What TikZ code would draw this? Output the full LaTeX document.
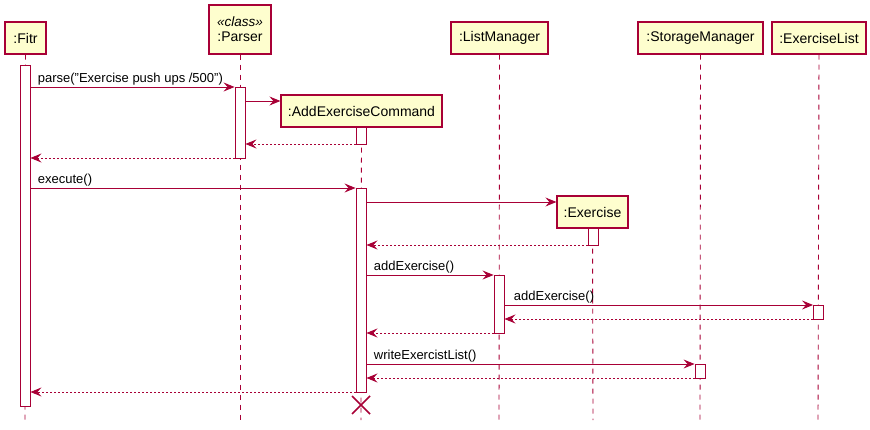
\documentclass[tikz,border=0pt]{standalone}
\usepackage{fontspec}
\setmainfont{Liberation Sans}
\usetikzlibrary{arrows.meta,calc}
\definecolor{pred}{HTML}{A80036}
\definecolor{pfill}{HTML}{FEFECE}
\begin{document}
\begin{tikzpicture}[x=1pt,y=-1pt,
  part/.style={draw=pred,fill=pfill,line width=1.2pt,inner sep=0pt,font=\fontsize{14}{16}\selectfont},
  life/.style={draw=pred,line width=0.9pt,dash pattern=on 5pt off 5pt},
  actbar/.style={draw=pred,fill=white,line width=0.9pt},
  msg/.style={draw=pred,line width=0.9pt,-{Stealth[length=11pt,width=9pt,inset=4pt]}},
  ret/.style={msg,dash pattern=on 2pt off 2pt},
  lbl/.style={font=\fontsize{13}{15}\selectfont,anchor=south west,inner sep=1pt}]
\useasboundingbox (0,0) rectangle (870,430);
% participants
\node[part,minimum width=41pt,minimum height=32pt] (fitr) at (25.5,38) {:Fitr};
\node[part,minimum width=62pt,minimum height=49pt,align=center] (parser) at (240,29.5) {\fontsize{13.5}{15}\selectfont\itshape «class»\\[-1pt]:Parser};
\node[part,minimum width=97pt,minimum height=32pt] (lm) at (499.5,38) {:ListManager};
\node[part,minimum width=125pt,minimum height=32pt] (sm) at (700.5,38) {:StorageManager};
\node[part,minimum width=94pt,minimum height=32pt] (el) at (819,38) {:ExerciseList};
\node[part,minimum width=161pt,minimum height=32pt] (aec) at (361.5,111) {:AddExerciseCommand};
\node[part,minimum width=71pt,minimum height=32pt] (ex) at (592.5,212) {:Exercise};
% lifelines
\coordinate (fitrE) at (25,420);
\coordinate (parserE) at (240,420);
\coordinate (lmE) at (499,420);
\coordinate (smE) at (700,420);
\coordinate (elE) at (818,420);
\coordinate (aecE) at (361,420);
\coordinate (exE) at (593,420);
\draw[life] (fitr.south) -- (fitrE);
\draw[life] (parser.south) -- (parserE);
\draw[life] (lm.south) -- (lmE);
\draw[life] (sm.south) -- (smE);
\draw[life] (el.south) -- (elE);
\draw[life] (aec.south) -- (aecE);
\draw[life] (ex.south) -- (exE);
% activation bars
\node[actbar,minimum width=10pt,minimum height=341pt,inner sep=0pt] (afitr) at (25,235.5) {};
\node[actbar,minimum width=10pt,minimum height=71pt,inner sep=0pt] (aparser) at (240,122.5) {};
\node[actbar,minimum width=10pt,minimum height=17pt,inner sep=0pt] (aaec1) at (361,135.5) {};
\node[actbar,minimum width=10pt,minimum height=204pt,inner sep=0pt] (aaec2) at (361,290) {};
\node[actbar,minimum width=10pt,minimum height=17pt,inner sep=0pt] (aex) at (593,236.5) {};
\node[actbar,minimum width=10pt,minimum height=58pt,inner sep=0pt] (alm) at (499,304) {};
\node[actbar,minimum width=10pt,minimum height=14pt,inner sep=0pt] (ael) at (818.5,312) {};
\node[actbar,minimum width=10pt,minimum height=14pt,inner sep=0pt] (asm) at (700,371) {};
% messages
\draw[msg] (afitr.east |- 0,87) coordinate (m1s) -- node[lbl,at start,xshift=6pt] (l1) {parse("Exercise push ups /500")} (aparser.west |- 0,87);
\draw[msg] (aparser.east |- 0,101) -- (aec.west |- 0,101);
\draw[ret] (aaec1.west |- 0,144) -- (aparser.east |- 0,144);
\draw[ret] (aparser.west |- 0,158) -- (afitr.east |- 0,158);
\draw[msg] (afitr.east |- 0,188) -- node[lbl,at start,xshift=6pt] (l2) {execute()} (aaec2.west |- 0,188);
\draw[msg] (aaec2.east |- 0,202) -- (ex.west |- 0,202);
\draw[ret] (aex.west |- 0,245) -- (aaec2.east |- 0,245);
\draw[msg] (aaec2.east |- 0,275) -- node[lbl,at start,xshift=6pt] (l3) {addExercise()} (alm.west |- 0,275);
\draw[msg] (alm.east |- 0,305) -- node[lbl,at start,xshift=8pt] (l4) {addExercise()} (ael.west |- 0,305);
\draw[ret] (ael.west |- 0,319) -- (alm.east |- 0,319);
\draw[ret] (alm.west |- 0,333) -- (aaec2.east |- 0,333);
\draw[msg] (aaec2.east |- 0,364) -- node[lbl,at start,xshift=6pt] (l5) {writeExercistList()} (asm.west |- 0,364);
\draw[ret] (asm.west |- 0,378) -- (aaec2.east |- 0,378);
\draw[ret] (aaec2.west |- 0,392) -- (afitr.east |- 0,392);
% destroy
\coordinate (xd) at (361,405);
\draw[pred,line width=1.6pt] ($(xd)+(-9,-9)$) -- ($(xd)+(9,9)$) ($(xd)+(-9,9)$) -- ($(xd)+(9,-9)$);
\end{tikzpicture}
\end{document}
